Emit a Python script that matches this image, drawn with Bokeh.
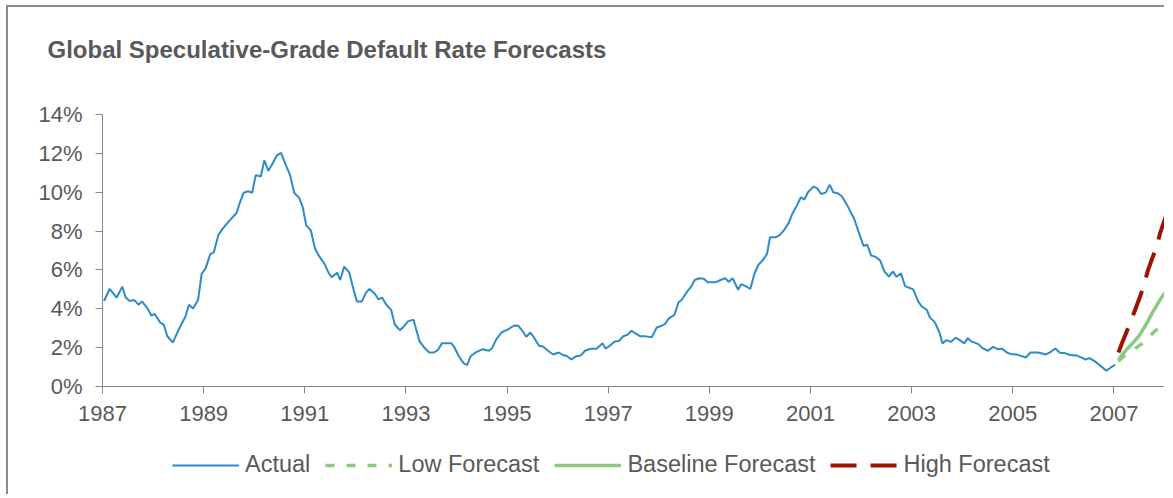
from bokeh.plotting import figure
from bokeh.models import (FixedTicker, PrintfTickFormatter, Legend, LegendItem, Range1d, Title)
from bokeh.embed import file_html
from bokeh.resources import INLINE

# ---- data ----
actual_year = [
    1987.03, 1987.14, 1987.28, 1987.39, 1987.46, 1987.54, 1987.63, 1987.71, 1987.78, 1987.89, 1987.97,
    1988.03, 1988.14, 1988.21, 1988.28, 1988.39, 1988.47, 1988.54, 1988.64, 1988.71, 1988.79, 1988.89, 1988.96,
    1989.04, 1989.13, 1989.20, 1989.29, 1989.37, 1989.43, 1989.53, 1989.65, 1989.71, 1989.79, 1989.88, 1989.96,
    1990.03, 1990.13, 1990.20, 1990.28, 1990.36, 1990.45, 1990.53, 1990.62, 1990.71, 1990.79, 1990.89, 1990.96,
    1991.03, 1991.12, 1991.20, 1991.28, 1991.39, 1991.46, 1991.53, 1991.64, 1991.70, 1991.78, 1991.88, 1991.95,
    1992.03, 1992.13, 1992.21, 1992.28, 1992.38, 1992.46, 1992.53, 1992.61, 1992.71, 1992.78, 1992.88, 1992.94,
    1993.04, 1993.15, 1993.27, 1993.36, 1993.46, 1993.55, 1993.63, 1993.71, 1993.90, 1993.96,
    1994.04, 1994.14, 1994.21, 1994.28, 1994.37, 1994.52, 1994.64, 1994.70, 1994.79, 1994.89,
    1995.02, 1995.14, 1995.22, 1995.30, 1995.38, 1995.46, 1995.53, 1995.63, 1995.71, 1995.81, 1995.91,
    1996.02, 1996.11, 1996.19, 1996.27, 1996.37, 1996.46, 1996.54, 1996.65, 1996.77, 1996.89, 1996.95,
    1997.03, 1997.13, 1997.21, 1997.30, 1997.38, 1997.46, 1997.53, 1997.63, 1997.74, 1997.86, 1997.96,
    1998.06, 1998.12, 1998.20, 1998.31, 1998.39, 1998.45, 1998.56, 1998.63, 1998.71, 1998.80, 1998.89, 1998.97,
    1999.12, 1999.22, 1999.32, 1999.38, 1999.46, 1999.57, 1999.63, 1999.72, 1999.81, 1999.89, 1999.97,
    2000.05, 2000.14, 2000.20, 2000.32, 2000.40, 2000.47, 2000.57, 2000.64, 2000.73, 2000.81, 2000.88, 2000.95,
    2001.06, 2001.13, 2001.21, 2001.30, 2001.38, 2001.45, 2001.54, 2001.62, 2001.72, 2001.78, 2001.86, 2001.95,
    2002.05, 2002.12, 2002.20, 2002.29, 2002.38, 2002.46, 2002.55, 2002.63, 2002.70, 2002.79, 2002.87,
    2003.03, 2003.13, 2003.20, 2003.30, 2003.36, 2003.46, 2003.55, 2003.61, 2003.69, 2003.78, 2003.87, 2003.95,
    2004.04, 2004.11, 2004.18, 2004.32, 2004.41, 2004.51, 2004.61, 2004.70, 2004.79, 2004.90, 2004.97,
    2005.10, 2005.26, 2005.35, 2005.50, 2005.66, 2005.76, 2005.84, 2005.93,
    2006.03, 2006.13, 2006.26, 2006.36, 2006.44, 2006.52, 2006.61, 2006.72, 2006.85, 2006.94, 2007.03,
]
actual_rate = [
    4.40, 5.02, 4.57, 5.14, 4.57, 4.40, 4.45, 4.21, 4.38, 4.02, 3.64,
    3.74, 3.29, 3.19, 2.60, 2.26, 2.72, 3.10, 3.60, 4.21, 4.02, 4.45, 5.79,
    6.09, 6.81, 6.90, 7.79, 8.10, 8.29, 8.59, 8.93, 9.41, 9.97, 10.05, 9.97,
    10.88, 10.81, 11.64, 11.10, 11.47, 11.90, 12.02, 11.43, 10.88, 9.97, 9.71, 9.22,
    8.29, 8.03, 7.12, 6.72, 6.31, 5.91, 5.62, 5.86, 5.48, 6.17, 5.86, 5.14,
    4.38, 4.38, 4.83, 5.02, 4.79, 4.48, 4.57, 4.22, 3.93, 3.19, 2.90, 3.03,
    3.35, 3.44, 2.32, 2.01, 1.75, 1.75, 1.87, 2.22, 2.22, 2.01,
    1.58, 1.20, 1.10, 1.56, 1.74, 1.92, 1.84, 1.96, 2.44, 2.78,
    2.94, 3.14, 3.13, 2.87, 2.56, 2.78, 2.53, 2.10, 2.06, 1.84, 1.65,
    1.75, 1.62, 1.56, 1.39, 1.56, 1.60, 1.84, 1.94, 1.94, 2.22, 1.94,
    2.10, 2.32, 2.34, 2.59, 2.66, 2.87, 2.75, 2.59, 2.58, 2.53, 3.04,
    3.13, 3.21, 3.51, 3.69, 4.33, 4.45, 4.88, 5.10, 5.48, 5.57, 5.55, 5.36,
    5.36, 5.48, 5.57, 5.38, 5.57, 4.98, 5.27, 5.17, 5.02, 5.79, 6.27,
    6.48, 6.82, 7.68, 7.68, 7.82, 8.02, 8.42, 8.88, 9.31, 9.74, 9.62, 10.00,
    10.29, 10.21, 9.91, 9.98, 10.38, 10.00, 9.95, 9.79, 9.36, 9.05, 8.66, 7.97,
    7.23, 7.30, 6.74, 6.67, 6.48, 5.93, 5.65, 5.91, 5.65, 5.82, 5.17,
    5.00, 4.38, 4.12, 3.95, 3.56, 3.30, 2.78, 2.22, 2.39, 2.30, 2.51, 2.39,
    2.22, 2.49, 2.32, 2.18, 1.96, 1.84, 2.04, 1.92, 1.94, 1.72, 1.67,
    1.63, 1.49, 1.75, 1.75, 1.65, 1.80, 1.96, 1.74,
    1.72, 1.62, 1.60, 1.49, 1.39, 1.46, 1.32, 1.10, 0.81, 0.98, 1.12,
]

forecast_year = [2007.09, 2007.17, 2007.25, 2007.33, 2007.42, 2007.50, 2007.58,
                 2007.67, 2007.75, 2007.83, 2007.92, 2008.00, 2008.04]
low_forecast = [1.30, 1.50, 1.65, 1.80, 1.95, 2.10, 2.25, 2.45, 2.70, 2.90, 3.00, 3.00, 3.00]
baseline_forecast = [1.36, 1.65, 1.90, 2.12, 2.38, 2.62, 2.95, 3.35, 3.75, 4.10, 4.50, 4.80, 4.85]
high_forecast = [1.75, 2.30, 2.80, 3.35, 3.95, 4.50, 5.10, 5.95, 6.55, 7.08, 7.95, 8.55, 8.85]

x_ticks = [1987, 1989, 1991, 1993, 1995, 1997, 1999, 2001, 2003, 2005, 2007]
y_ticks = [0, 2, 4, 6, 8, 10, 12, 14]
x_start, x_end = 1987, 2008.04
y_start, y_end = 0, 14

TITLE = "Global Speculative-Grade Default Rate Forecasts"
FONT = "Liberation Sans"
TEXT_COLOR = "#595959"
AXIS_COLOR = "#868686"
BLUE = "#2e8bc9"
GREEN = "#8dc883"
RED = "#9c1306"

# layout (pixels, inside the bordered figure): the frame fills the figure below the
# title; the axes are pinned at x=1987 / y=0 so that labels and legend are not cut
W, H = 1158, 489
LEFT, TOP, ZERO = 94, 107, 379     # x of 1987, y of 14 %, y of 0 %
FRAME_TOP = 90
x_low = x_start - LEFT * (x_end - x_start) / (W - LEFT)
y_low = y_start - (H - ZERO) * (y_end - y_start) / (ZERO - TOP)
y_high = y_end + (TOP - FRAME_TOP) * (y_end - y_start) / (ZERO - TOP)

p = figure(width=W, height=H, output_backend="svg", toolbar_location=None,
           x_range=Range1d(x_low, x_end), y_range=Range1d(y_low, y_high),
           min_border_left=0, min_border_right=0, min_border_top=FRAME_TOP, min_border_bottom=0)
p.styles = {"margin-left": "6px", "margin-top": "5px",
            "border-left": "2px solid #8c8c8c", "border-top": "2px solid #8c8c8c"}

p.title.text = TITLE
p.title.text_font = FONT
p.title.text_font_size = "24px"
p.title.text_font_style = "bold"
p.title.text_color = TEXT_COLOR
p.title.align = "left"
p.title.offset = 39
p.title.standoff = 0

# layout spacer between the title and the plot frame
p.add_layout(Title(text=" ", text_font_size="1px", standoff=32), "above")

p.grid.visible = False
p.outline_line_color = None
p.background_fill_color = "white"
p.border_fill_color = "white"

for ax in (p.xaxis[0], p.yaxis[0]):
    ax.axis_line_color = AXIS_COLOR
    ax.major_tick_line_color = AXIS_COLOR
    ax.major_tick_in = 0
    ax.major_tick_out = 7
    ax.minor_tick_line_color = None
    ax.major_label_text_font = FONT
    ax.major_label_text_font_size = "22px"
    ax.major_label_text_color = TEXT_COLOR

p.xaxis.fixed_location = y_start
p.xaxis.bounds = (x_start, x_end)
p.xaxis.ticker = FixedTicker(ticks=x_ticks)
p.xaxis.formatter = PrintfTickFormatter(format="%d")
p.xaxis.major_label_standoff = 12
p.yaxis.fixed_location = x_start
p.yaxis.bounds = (y_start, y_end)
p.yaxis.ticker = FixedTicker(ticks=y_ticks)
p.yaxis.formatter = PrintfTickFormatter(format="%d%%")
p.yaxis.major_label_standoff = 13

r_act = p.line(actual_year, actual_rate, line_color=BLUE, line_width=2)
r_low = p.line(forecast_year, low_forecast, line_color=GREEN, line_width=3.5, line_dash="9 12")
r_base = p.line(forecast_year, baseline_forecast, line_color=GREEN, line_width=3.5)
r_high = p.line(forecast_year, high_forecast, line_color=RED, line_width=4, line_dash="26 14")

legend = Legend(items=[
    LegendItem(label="Actual", renderers=[r_act]),
    LegendItem(label="Low Forecast", renderers=[r_low]),
    LegendItem(label="Baseline Forecast", renderers=[r_base]),
    LegendItem(label="High Forecast", renderers=[r_high]),
], orientation="horizontal", location=(164, 18))
legend.label_text_font = FONT
legend.label_text_font_size = "23.5px"
legend.label_text_color = TEXT_COLOR
legend.glyph_width = 67
legend.label_standoff = 6
legend.spacing = 15
legend.padding = 0
legend.margin = 0
legend.border_line_color = None
legend.background_fill_alpha = 0
p.add_layout(legend, "center")

open("out.html", "w").write(file_html(p, INLINE))
